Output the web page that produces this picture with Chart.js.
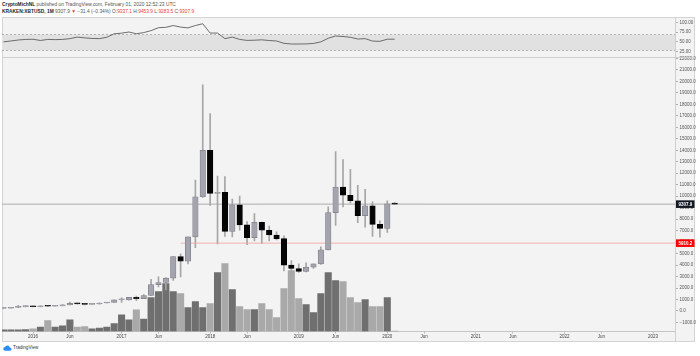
<!DOCTYPE html>
<html>
<head>
<meta charset="utf-8">
<script src="https://cdn.jsdelivr.net/npm/chart.js@4/dist/chart.umd.min.js"></script>
<style>
html,body{margin:0;padding:0;background:#fff;}
#wrap{position:relative;width:700px;height:356px;overflow:hidden;background:#fff;font-family:"Liberation Sans",Arial,sans-serif;}
.hdr{position:absolute;left:2px;white-space:nowrap;font-size:9.7px;line-height:10px;transform:scale(0.5);transform-origin:0 0;color:#555;}
.hdr b{color:#222;}
.r{color:#ef3b3b;}
#frame{position:absolute;left:2px;top:17px;width:693px;height:325px;box-sizing:border-box;border:1px solid #d4d4d4;background:#f3f3f3;z-index:0;}
canvas{position:absolute;left:0;z-index:1;}
.ln{position:absolute;background:#cfcfcf;z-index:2;}
#logo{position:absolute;left:3px;top:345px;z-index:2;}
#logotxt{position:absolute;left:13px;top:345px;font-size:9.2px;line-height:10px;transform:scale(0.5);transform-origin:0 0;color:#333;white-space:nowrap;}
</style>
</head>
<body>
<div id="wrap">
  <div class="hdr" style="top:1.5px"><b>CryptoMichNL</b> published on TradingView.com, February 01, 2020 12:52:23 UTC</div>
  <div class="hdr" style="top:8.5px"><b>KRAKEN:XBTUSD, 1M</b> 9307.9 <span class="r">▼</span> −31.4 (−0.34%) O:<span class="r">9337.1</span> H:<span class="r">9453.9</span> L:<span class="r">9283.5</span> C:<span class="r">9307.9</span></div>
  <div id="frame"></div>
  <canvas id="rsi" width="700" height="40" style="top:17px"></canvas>
  <canvas id="main" width="700" height="292" style="top:50px"></canvas>
  <div class="ln" style="left:2px;top:57px;width:693px;height:1px"></div>
  <div class="ln" style="left:675px;top:17px;width:1px;height:325px"></div>
  <svg id="logo" width="9" height="6" viewBox="0 0 36 24"><path d="M9 23a7.5 7.5 0 0 1-1-15a10 10 0 0 1 19 2a6.5 6.5 0 0 1 1 13z" fill="#2a8ff0"/></svg>
  <div id="logotxt">TradingView</div>
</div>
<script>
// ---------- data ----------
const months = ['2015-09','2015-10','2015-11','2015-12',
 '2016-01','2016-02','2016-03','2016-04','2016-05','2016-06','2016-07','2016-08','2016-09','2016-10','2016-11','2016-12',
 '2017-01','2017-02','2017-03','2017-04','2017-05','2017-06','2017-07','2017-08','2017-09','2017-10','2017-11','2017-12',
 '2018-01','2018-02','2018-03','2018-04','2018-05','2018-06','2018-07','2018-08','2018-09','2018-10','2018-11','2018-12',
 '2019-01','2019-02','2019-03','2019-04','2019-05','2019-06','2019-07','2019-08','2019-09','2019-10','2019-11','2019-12',
 '2020-01','2020-02'];
const open = [230,236,314,377,
 430,368,436,416,448,530,673,624,573,609,698,745,
 963,970,1190,1080,1350,2300,2480,2870,4730,4340,6450,9950,
 14000,10250,10330,6930,9240,7500,6390,7730,7030,6620,6300,4000,
 3700,3450,3820,4100,5330,8570,10800,10080,9600,8300,9150,7550,
 7200,9337.1];
const high = [245,330,495,465,
 460,445,440,467,550,780,700,625,630,720,760,975,
 1150,1200,1290,1420,2760,2980,2900,4750,4980,6470,11400,19700,
 17200,11750,11700,9750,10000,7780,8490,7750,7400,6900,6550,4400,
 4100,4200,4100,5600,9080,13880,13200,12330,10950,10600,9500,7850,
 9600,9453.9];
const low = [224,236,300,350,
 355,365,395,412,435,530,600,530,570,603,680,745,
 750,935,890,1070,1340,2100,1830,2670,2970,4100,5510,9900,
 9200,5850,6500,6450,7050,5780,6100,5880,6100,6200,3500,3150,
 3350,3400,3700,4050,5330,7450,9060,9400,7700,7300,6500,6430,
 6850,9283.5];
const close = [236,314,377,430,
 368,436,416,448,530,673,624,573,609,698,745,963,
 970,1190,1080,1350,2300,2480,2870,4730,4340,6450,9950,14000,
 10250,10330,6930,9240,7500,6390,7730,7030,6620,6300,4000,3700,
 3450,3820,4100,5330,8570,10800,10080,9600,8300,9150,7550,7200,
 9339.3,9307.9];
const volume = [17,17,17,20,
 27,43,110,43,57,117,43,50,27,33,45,80,
 167,117,217,125,340,400,480,400,380,240,300,240,
 280,590,680,420,250,220,220,280,220,140,430,610,
 330,270,190,380,590,510,500,340,290,320,250,250,
 340,3];
const rsi = [50.3,52.5,55,56.5,
 57,53.8,56.5,56,56.5,58.5,62.5,60.5,59,58.5,62,71,
 72.5,75.5,71,74,79,86.5,87.5,92,88,86,92,96.6,
 72.8,72.8,58.5,62.5,56.5,54,54.5,55.5,53.7,52.5,46.5,44.8,
 44.8,45,46.2,50.3,59.5,65.3,64,62,57.5,58.5,52.3,51.6,
 57.1,57.1];
const lastPrice = 9307.9;
const levelPrice = 5910.2;
const levelStart = '2017-09';
const rsiUpper = 70, rsiLower = 30;
const rsiTicks = [25,50,75,100];
const priceTicks = [-1000,0,1000,2000,3000,4000,5000,6000,7000,8000,9000,10000,11000,12000,13000,14000,15000,16000,17000,18000,19000,20000,21000,22000];
const xTickMonths = ['2016-01','2016-06','2017-01','2017-06','2018-01','2018-06','2019-01','2019-06','2020-01','2020-06','2021-01','2021-06','2022-01','2022-06','2023-01'];
const xTickLabels = ['2016','Jun','2017','Jun','2018','Jun','2019','Jun','2020','Jun','2021','Jun','2022','Jun','2023'];

// ---------- view ----------
const FONT = "'Liberation Sans', Arial, sans-serif";
const mi = m => (+m.slice(0,4) - 2016) * 12 + (+m.slice(5,7)) - 1;
const X_MIN = -4.2, X_MAX = 86.98;
const up = close.map((c,i) => c >= open[i]);

const rsiBand = {
  id:'rsiBand',
  beforeDatasetsDraw(chart){
    const {ctx, chartArea:a, scales:{y}} = chart;
    const y1 = Math.round(y.getPixelForValue(rsiUpper)) + 0.5;
    const y2 = Math.round(y.getPixelForValue(rsiLower)) + 0.5;
    ctx.save();
    ctx.fillStyle = '#e1e1e1';
    ctx.fillRect(a.left, y1, a.right - a.left, y2 - y1);
    ctx.strokeStyle = '#b4b4b4'; ctx.lineWidth = 1; ctx.setLineDash([2,2]);
    [y1,y2].forEach(v => { ctx.beginPath(); ctx.moveTo(a.left, v); ctx.lineTo(a.right, v); ctx.stroke(); });
    ctx.restore();
  }
};

new Chart(document.getElementById('rsi'), {
  type:'line',
  data:{datasets:[{
    data: months.map((m,i) => ({x: mi(m), y: rsi[i]})),
    borderColor:'#5e5e5e', borderWidth:0.9, pointRadius:0, tension:0
  }]},
  options:{
    responsive:false, animation:false, events:[],
    layout:{padding:{left:2, right:0, top:0, bottom:0}},
    plugins:{legend:{display:false}, tooltip:{enabled:false}},
    scales:{
      x:{type:'linear', min:X_MIN, max:X_MAX, display:false},
      y:{position:'right', min:22.3, max:103.1,
         afterFit(s){ s.width = 25; },
         afterBuildTicks(s){ s.ticks = rsiTicks.map(v => ({value:v})); },
         ticks:{font:{size:4.5, family:FONT}, color:'#555', padding:1.5, callback:v => v.toFixed(2)},
         grid:{drawOnChartArea:false, tickLength:3, color:'#b0b0b0'},
         border:{display:false}}
    }
  },
  plugins:[rsiBand]
});

const priceTags = {
  id:'priceTags',
  afterDraw(chart){
    const {ctx, scales:{y}, chartArea:a} = chart;
    [[lastPrice,'#131722'],[levelPrice,'#ff0000']].forEach(([v,bg]) => {
      const py = y.getPixelForValue(v);
      ctx.save();
      ctx.fillStyle = bg;
      ctx.fillRect(a.right + 0.5, py - 3.8, 19, 7.6);
      ctx.fillStyle = '#fff';
      ctx.font = `bold 4.5px ${FONT}`;
      ctx.textBaseline = 'middle';
      ctx.fillText(v.toFixed(1), a.right + 3.5, py + 0.3);
      ctx.restore();
    });
  }
};

new Chart(document.getElementById('main'), {
  type:'bar',
  data:{datasets:[
    {type:'line', yAxisID:'y', order:1,
     data:[{x:X_MIN, y:lastPrice},{x:X_MAX, y:lastPrice}],
     borderColor:'#9c9c9c', borderWidth:0.8, pointRadius:0},
    {type:'line', yAxisID:'y', order:1,
     data:[{x:mi(levelStart), y:levelPrice},{x:X_MAX, y:levelPrice}],
     borderColor:'#f3a0a0', borderWidth:0.8, pointRadius:0},
    {type:'bar', yAxisID:'y', order:0, grouped:false,
     data: months.map((m,i) => ({x: mi(m), y:[open[i], close[i]]})),
     backgroundColor: up.map(u => u ? '#a3a4ae' : '#050505'),
     borderColor: up.map(u => u ? '#7f808a' : '#000'),
     borderWidth:0.7, borderSkipped:false, minBarLength:1,
     categoryPercentage:1, barPercentage:1, maxBarThickness:5.5},
    {type:'bar', yAxisID:'y', order:2, grouped:false,
     data: months.map((m,i) => ({x: mi(m), y:[low[i], high[i]]})),
     backgroundColor:'#a6a6a6', borderWidth:0,
     categoryPercentage:1, barPercentage:1, maxBarThickness:1},
    {type:'bar', yAxisID:'yv', order:3, grouped:false,
     data: months.map((m,i) => ({x: mi(m), y: volume[i]})),
     backgroundColor: up.map(u => u ? '#6f6f6f' : '#a9a9a9'),
     borderWidth:0,
     categoryPercentage:1, barPercentage:1, maxBarThickness:6.4}
  ]},
  options:{
    responsive:false, animation:false, events:[],
    layout:{padding:{left:2, right:0, top:8, bottom:0}},
    plugins:{legend:{display:false}, tooltip:{enabled:false}},
    scales:{
      x:{type:'linear', min:X_MIN, max:X_MAX, offset:false, position:'bottom',
         afterFit(s){ s.height = 10.5; },
         afterBuildTicks(s){ s.ticks = xTickMonths.map(m => ({value: mi(m)})); },
         ticks:{font:{size:4.5, family:FONT}, color:'#444', padding:1, maxRotation:0, autoSkip:false,
                callback:(v,i) => xTickLabels[i]},
         grid:{drawOnChartArea:false, tickLength:2, color:'#b8b8b8', offset:false},
         border:{color:'#c6c6c6'}},
      y:{position:'right', min:-1786, max:22038,
         afterFit(s){ s.width = 25; },
         afterBuildTicks(s){ s.ticks = priceTicks.map(v => ({value:v})); },
         ticks:{font:{size:4.5, family:FONT}, color:'#555', padding:1.5,
                callback:v => (v < 0 ? '−' : '') + Math.abs(v).toFixed(1)},
         grid:{drawOnChartArea:false, tickLength:3, color:'#b0b0b0'},
         border:{display:false}},
      yv:{position:'left', display:false, min:0, max:2735}
    }
  },
  plugins:[priceTags]
});
</script>
</body>
</html>
